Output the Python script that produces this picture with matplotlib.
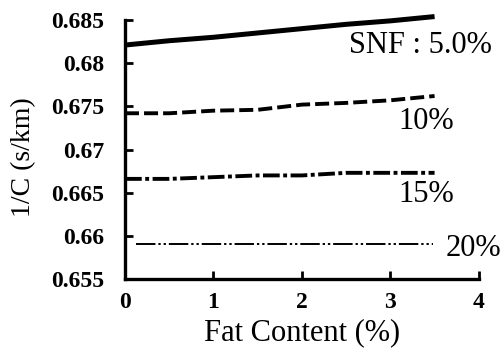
import matplotlib
matplotlib.use("Agg")
import matplotlib.pyplot as plt

fat = [0.0, 0.5, 1.0, 1.5, 2.0, 2.5, 3.0, 3.5]
snf5 = [0.6821, 0.6826, 0.6830, 0.6835, 0.6840, 0.6845, 0.6849, 0.6854]
snf10 = [0.6742, 0.6742, 0.6745, 0.6746, 0.6752, 0.6754, 0.6757, 0.6762]
snf15 = [0.6666, 0.6666, 0.6668, 0.6670, 0.6670, 0.6673, 0.6673, 0.6673]
fat20 = [0.13, 0.5, 1.0, 1.5, 2.0, 2.5, 3.0, 3.48]
snf20 = [0.6591, 0.6591, 0.6591, 0.6591, 0.6591, 0.6591, 0.6591, 0.6591]
labels = ["SNF : 5.0%", "10%", "15%", "20%"]
xticks = [0, 1, 2, 3, 4]
yticks = [0.655, 0.66, 0.665, 0.67, 0.675, 0.68, 0.685]
ytick_labels = ["0.655", "0.66", "0.665", "0.67", "0.675", "0.68", "0.685"]

plt.rcParams['font.family'] = ['Liberation Serif', 'DejaVu Serif']

fig = plt.figure(figsize=(5.04, 3.51), dpi=100)
ax = fig.add_axes([0.248, 0.205, 0.702, 0.738])

ax.plot(fat, snf5, color='black', lw=3.6, solid_capstyle='butt', clip_on=False)
ax.plot(fat, snf10, color='black', lw=2.8, dashes=(3.6, 1.3), clip_on=False)
ax.plot(fat, snf15, color='black', lw=2.8, dashes=(4.3, 0.9, 1.0, 0.9), clip_on=False)
ax.plot(fat20, snf20, color='black', lw=1.4, dashes=(10, 1.5, 1.2, 1.5, 1.2, 1.5), clip_on=False)

ax.text(2.53, 0.6821, labels[0], fontsize=22, ha='left', va='center')
ax.text(3.09, 0.6733, labels[1], fontsize=22, ha='left', va='center')
ax.text(3.09, 0.6648, labels[2], fontsize=22, ha='left', va='center')
ax.text(3.63, 0.6585, labels[3], fontsize=22, ha='left', va='center')

ax.set_xlim(0, 4)
ax.set_ylim(0.655, 0.685)
ax.set_xticks(xticks)
ax.set_xticklabels([str(t) for t in xticks])
ax.set_yticks(yticks)
ax.set_yticklabels(ytick_labels)
ax.tick_params(direction='in', length=6, width=2, labelsize=17)
ax.tick_params(axis='y', pad=15)
ax.tick_params(axis='x', pad=9)
for s in ['top', 'right']:
    ax.spines[s].set_visible(False)
for s in ['left', 'bottom']:
    ax.spines[s].set_linewidth(2.4)
for lbl in ax.get_xticklabels() + ax.get_yticklabels():
    lbl.set_fontweight('bold')

ax.set_xlabel("Fat Content (%)", fontsize=22, labelpad=4)
ax.set_ylabel("1/C (s/km)", fontsize=20)
ax.yaxis.set_label_coords(-0.25, 0.47)

fig.savefig("out.png", dpi=100)
